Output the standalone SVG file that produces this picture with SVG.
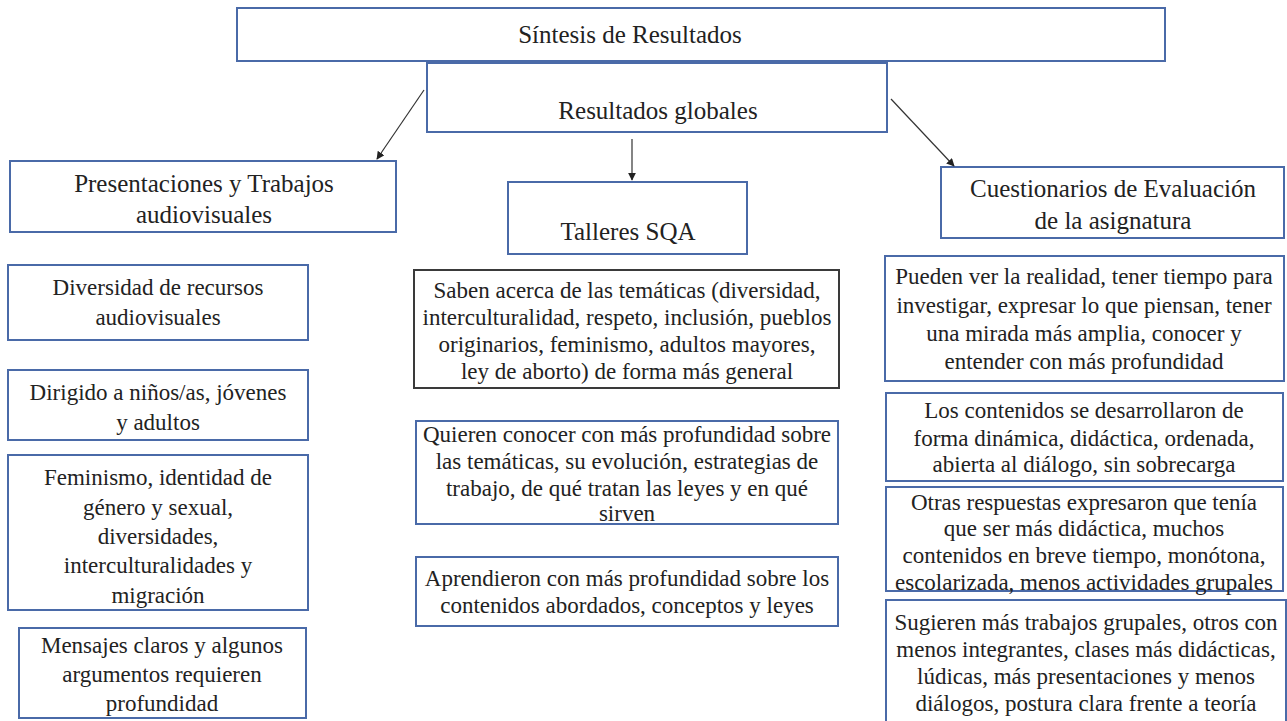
<svg xmlns="http://www.w3.org/2000/svg" width="1287" height="721" viewBox="0 0 1287 721">
<defs>
<style>
.box{fill:#ffffff;stroke:#4a6aa8;stroke-width:2}
.dark{fill:#ffffff;stroke:#3a3a3a;stroke-width:2}
.t{font-family:"Liberation Serif","Times New Roman",serif;font-size:23px;fill:#222222;text-anchor:middle}
.h{font-family:"Liberation Serif","Times New Roman",serif;font-size:25px;fill:#222222;text-anchor:middle}
.conn{stroke:#333333;stroke-width:1.2;fill:none;marker-end:url(#arr)}
</style>
<marker id="arr" viewBox="0 0 10 10" refX="9" refY="5" markerWidth="8" markerHeight="8" markerUnits="userSpaceOnUse" orient="auto">
<path d="M0,0 L10,5 L0,10 z" fill="#222222"/>
</marker>
</defs>
<rect width="1287" height="721" fill="#ffffff"/>

<g id="n-sintesis">
<rect class="box" x="237" y="8" width="928" height="53"/>
<text class="h" x="630" y="43">Síntesis de Resultados</text>
</g>

<g id="n-globales">
<rect class="box" x="427" y="63" width="460" height="69"/>
<text class="h" x="658" y="119">Resultados globales</text>
</g>

<g id="n-presentaciones">
<rect class="box" x="10" y="161" width="386" height="71"/>
<text class="h" x="204" y="192">Presentaciones  y Trabajos</text>
<text class="h" x="204" y="223">audiovisuales</text>
</g>

<g id="n-talleres">
<rect class="box" x="508" y="182" width="239" height="72"/>
<text class="h" x="628" y="240">Talleres SQA</text>
</g>

<g id="n-cuestionarios">
<rect class="box" x="941" y="167" width="343" height="71"/>
<text class="h" x="1113" y="197">Cuestionarios  de Evaluación</text>
<text class="h" x="1113" y="229">de la asignatura</text>
</g>

<g id="n-diversidad">
<rect class="box" x="8" y="265" width="300" height="75"/>
<text class="t" x="158" y="295">Diversidad  de recursos</text>
<text class="t" x="158" y="325">audiovisuales</text>
</g>

<g id="n-dirigido">
<rect class="box" x="8" y="370" width="300" height="70"/>
<text class="t" x="158" y="400">Dirigido  a niños/as, jóvenes</text>
<text class="t" x="158" y="430">y adultos</text>
</g>

<g id="n-feminismo">
<rect class="box" x="8" y="455" width="300" height="155"/>
<text class="t" x="158" y="485">Feminismo,  identidad  de</text>
<text class="t" x="158" y="515">género y sexual,</text>
<text class="t" x="158" y="544">diversidades,</text>
<text class="t" x="158" y="573">interculturalidades  y</text>
<text class="t" x="158" y="603">migración</text>
</g>

<g id="n-mensajes">
<rect class="box" x="19" y="628" width="287" height="90"/>
<text class="t" x="162" y="653">Mensajes claros y algunos</text>
<text class="t" x="162" y="682">argumentos requieren</text>
<text class="t" x="162" y="711">profundidad</text>
</g>

<g id="n-saben">
<rect class="dark" x="414" y="270" width="425" height="118"/>
<text class="t" x="627" y="298">Saben acerca de las temáticas (diversidad,</text>
<text class="t" x="627" y="325">interculturalidad, respeto, inclusión, pueblos</text>
<text class="t" x="627" y="352">originarios, feminismo, adultos mayores,</text>
<text class="t" x="627" y="379">ley de aborto) de forma más general</text>
</g>

<g id="n-quieren">
<rect class="box" x="416" y="421" width="422" height="103"/>
<text class="t" x="627" y="442">Quieren conocer con más profundidad sobre</text>
<text class="t" x="627" y="469">las temáticas, su evolución, estrategias de</text>
<text class="t" x="627" y="496">trabajo, de qué tratan las leyes y en qué</text>
<text class="t" x="627" y="521">sirven</text>
</g>

<g id="n-aprendieron">
<rect class="box" x="416" y="557" width="422" height="69"/>
<text class="t" x="627" y="586">Aprendieron con más profundidad sobre los</text>
<text class="t" x="627" y="613">contenidos abordados, conceptos y leyes</text>
</g>

<g id="n-pueden">
<rect class="box" x="885" y="256" width="399" height="125"/>
<text class="t" x="1084" y="284">Pueden ver la realidad, tener tiempo para</text>
<text class="t" x="1084" y="313">investigar, expresar lo que piensan, tener</text>
<text class="t" x="1084" y="341">una mirada más amplia, conocer y</text>
<text class="t" x="1084" y="369">entender con más profundidad</text>
</g>

<g id="n-contenidos">
<rect class="box" x="886" y="393" width="397" height="88"/>
<text class="t" x="1084" y="418">Los contenidos se desarrollaron de</text>
<text class="t" x="1084" y="446">forma dinámica, didáctica, ordenada,</text>
<text class="t" x="1084" y="472">abierta al diálogo, sin sobrecarga</text>
</g>

<g id="n-otras">
<rect class="box" x="886" y="487" width="397" height="104"/>
<text class="t" x="1084" y="510">Otras respuestas expresaron que tenía</text>
<text class="t" x="1084" y="536">que ser más didáctica, muchos</text>
<text class="t" x="1084" y="563">contenidos en breve tiempo, monótona,</text>
<text class="t" x="1084" y="590">escolarizada, menos actividades grupales</text>
</g>

<g id="n-sugieren">
<rect class="box" x="886" y="600" width="400" height="125"/>
<text class="t" x="1086" y="630">Sugieren más trabajos grupales, otros con</text>
<text class="t" x="1086" y="657">menos integrantes, clases más didácticas,</text>
<text class="t" x="1086" y="684">lúdicas, más presentaciones y menos</text>
<text class="t" x="1086" y="711">diálogos, postura clara frente a teoría</text>
</g>

<g id="connectors">
<line class="conn" x1="424" y1="90" x2="377" y2="159"/>
<line class="conn" x1="632" y1="139" x2="632" y2="180"/>
<line class="conn" x1="891" y1="99" x2="954" y2="166"/>
</g>
</svg>
